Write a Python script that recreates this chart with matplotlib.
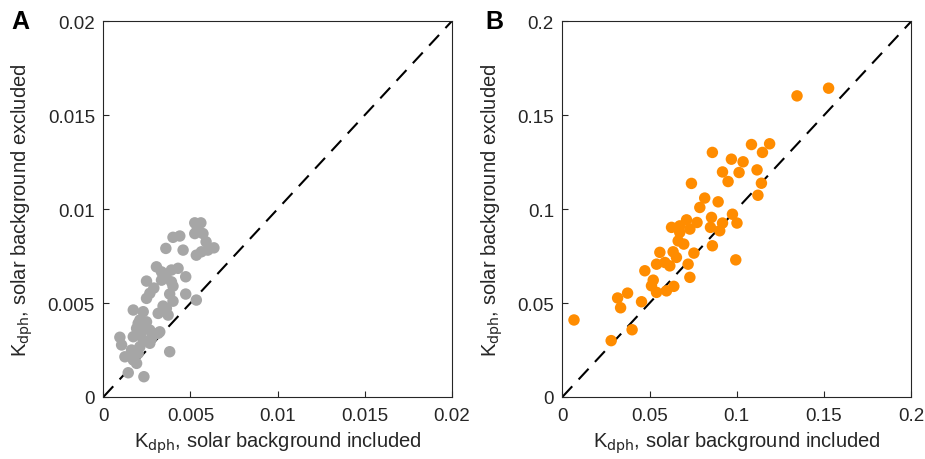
import matplotlib
matplotlib.use("Agg")
import matplotlib.pyplot as plt
import numpy as np

plt.rcParams['font.family'] = ['Liberation Sans', 'DejaVu Sans']

# Panel A data (x: solar background included, y: excluded)
a_x = [5.25, 5.6, 5.4, 5.25, 5.72, 5.9, 6.35, 6.0, 5.63, 5.34, 4.0, 4.39, 3.59, 4.58,
       3.05, 3.34, 3.91, 4.29, 4.73, 2.48, 3.34, 3.91, 4.0, 2.67, 2.48, 3.81, 4.73, 5.34,
       3.43, 3.62, 3.15, 1.72, 2.29, 3.72, 2.1, 2.48, 2.0, 1.91, 2.2, 2.67, 3.24, 3.15,
       1.72, 0.95, 2.29, 2.77, 2.67, 2.1, 1.62, 1.05, 2.0, 3.81, 1.24, 1.72, 1.91, 1.43,
       2.33, 2.9, 3.6, 2.2, 4.0]
a_y = [9.27, 9.27, 9.0, 8.7, 8.7, 8.26, 7.94, 7.82, 7.73, 7.55, 8.5, 8.57, 7.91, 7.82,
       6.93, 6.66, 6.76, 6.85, 6.4, 6.17, 6.22, 6.13, 5.9, 5.52, 5.25, 5.48, 5.48, 5.16,
       4.84, 4.72, 4.45, 4.63, 4.54, 4.36, 4.1, 4.0, 3.92, 3.65, 3.47, 3.56, 3.47, 3.39,
       3.21, 3.18, 3.03, 3.12, 2.86, 2.68, 2.5, 2.77, 2.32, 2.41, 2.14, 1.97, 1.79, 1.29,
       1.08, 5.8, 6.4, 3.8, 5.1]
a_x = [v * 1e-3 for v in a_x]
a_y = [v * 1e-3 for v in a_y]

# Panel B data
b_x = [0.0067, 0.028, 0.040, 0.0317, 0.0334, 0.0374, 0.0454, 0.0511, 0.0597, 0.0473,
       0.0521, 0.054, 0.0639, 0.054, 0.0559, 0.0588, 0.0616, 0.0635, 0.0654, 0.0664,
       0.0673, 0.0696, 0.0626, 0.0673, 0.0712, 0.0731, 0.0772, 0.0721, 0.0731, 0.0754,
       0.0788, 0.0893, 0.0855, 0.0849, 0.086, 0.0902, 0.0918, 0.0975, 0.1001, 0.0994,
       0.1345, 0.1526, 0.086, 0.1084, 0.1188, 0.1147, 0.0969, 0.1036, 0.0918, 0.1013,
       0.1116, 0.095, 0.074, 0.1141, 0.1121, 0.0816]
b_y = [0.041, 0.030, 0.0358, 0.0527, 0.0475, 0.0553, 0.0507, 0.0592, 0.0565, 0.0672,
       0.0622, 0.0557, 0.0589, 0.0707, 0.077, 0.0716, 0.0698, 0.0773, 0.0743, 0.0831,
       0.0876, 0.0814, 0.0903, 0.0911, 0.0943, 0.0894, 0.0929, 0.0707, 0.0637, 0.0766,
       0.1009, 0.1039, 0.0956, 0.0903, 0.0805, 0.0885, 0.0926, 0.0973, 0.0926, 0.073,
       0.1603, 0.1644, 0.1302, 0.1344, 0.1348, 0.1302, 0.1266, 0.1252, 0.1198, 0.1195,
       0.1209, 0.1147, 0.1137, 0.1138, 0.1074, 0.1059]

a_ticks = [0, 0.005, 0.01, 0.015, 0.02]
a_labels = ['0', '0.005', '0.01', '0.015', '0.02']
b_ticks = [0, 0.05, 0.1, 0.15, 0.2]
b_labels = ['0', '0.05', '0.1', '0.15', '0.2']

fig = plt.figure(figsize=(9.25, 4.6), dpi=100)
axA = fig.add_axes([0.1117, 0.1348, 0.3766, 0.8167])
axB = fig.add_axes([0.6079, 0.1348, 0.3773, 0.8167])

spine_col = '#262626'
panels = [
    (axA, a_x, a_y, '#A6A6A6', a_ticks, a_labels, 'A'),
    (axB, b_x, b_y, '#FF8C00', b_ticks, b_labels, 'B'),
]
for ax, xs, ys, col, ticks, labels, letter in panels:
    lim = ticks[-1]
    ax.plot([0, lim], [0, lim], color='black', lw=1.5, dashes=(7, 4.5), zorder=1)
    ax.scatter(xs, ys, s=68, color=col, edgecolors='none', zorder=2)
    ax.set_xlim(0, lim)
    ax.set_ylim(0, lim)
    ax.set_xticks(ticks)
    ax.set_xticklabels(labels)
    ax.set_yticks(ticks)
    ax.set_yticklabels(labels)
    ax.tick_params(direction='in', length=4, width=0.8, labelsize=13.5,
                   colors=spine_col)
    ax.tick_params(axis='x', pad=7)
    ax.tick_params(axis='y', pad=6)
    for s in ax.spines.values():
        s.set_color(spine_col)
        s.set_linewidth(0.8)
    ax.set_xlabel(r'K$_{\rm dph}$, solar background included', fontsize=14.5, labelpad=4,
                  color=spine_col)
    ax.set_ylabel(r'K$_{\rm dph}$, solar background excluded', fontsize=14.5, labelpad=9,
                  color=spine_col)

fig.text(20 / 925, 1 - 22 / 460, 'A', fontsize=18, fontweight='bold', ha='center', va='center')
fig.text(494 / 925, 1 - 22 / 460, 'B', fontsize=18, fontweight='bold', ha='center', va='center')

fig.savefig('out.png', dpi=100)
